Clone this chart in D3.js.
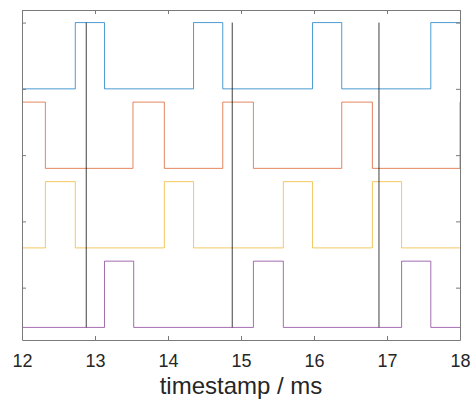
<!DOCTYPE html>
<html>
<head>
<meta charset="utf-8">
<script src="https://cdn.jsdelivr.net/npm/d3@7"></script>
<style>
  body { margin: 0; background: #fff; }
  svg { display: block; font-family: 'Liberation Sans', Arial, sans-serif; }
</style>
</head>
<body>
<div id="chart"></div>
<script>
(function() {
const width = 473,
      height = 401

// pulse [rise, fall] times in ms, one list per channel (top to bottom)
const blue = [[12.73, 13.13], [14.35, 14.75], [15.98, 16.38], [17.6, 18.4]]
const orange = [[11.9, 12.32], [13.52, 13.95], [14.75, 15.17], [16.38, 16.8], [18.0, 18.4]]
const yellow = [[12.32, 12.73], [13.95, 14.35], [15.58, 15.98], [16.8, 17.2]]
const purple = [[13.13, 13.53], [15.17, 15.58], [17.2, 17.6]]

const channels = [blue, orange, yellow, purple]
const offsets = [3.6, 2.4, 1.2, 0]
const colors = ['#0072BD', '#D95319', '#EDB120', '#7E2F8E']

// trigger markers
const markers = [12.88, 14.88, 16.89]

const xTicks = [12, 13, 14, 15, 16, 17, 18]
const yTicks = [0.6, 1.6, 2.6, 3.6, 4.6]

const margin = { left: 22, right: 13, top: 10, bottom: 61 }

const x = d3.scaleLinear()
  .domain([12, 18])
  .range([margin.left, width - margin.right])

const y = d3.scaleLinear()
  .domain([-0.19, 4.79])
  .range([height - margin.bottom, margin.top])

const svg = d3.select('#chart')
  .append('svg')
  .attr('width', width)
  .attr('height', height)

svg.append('defs').append('clipPath')
  .attr('id', 'clip')
  .append('rect')
  .attr('x', x(12))
  .attr('y', y(4.79))
  .attr('width', x(18) - x(12))
  .attr('height', y(-0.19) - y(4.79))

const plot = svg.append('g').attr('clip-path', 'url(#clip)')

const line = d3.line()
  .x(function(d) { return x(d[0]) })
  .y(function(d) { return y(d[1]) })

function stepPoints(pulses, base) {
  const pts = [[11.5, base]]
  pulses.forEach(function(p) {
    pts.push([p[0], base], [p[0], base + 1], [p[1], base + 1], [p[1], base])
  })
  pts.push([18.5, base])
  return pts
}

channels.forEach(function(pulses, i) {
  plot.append('path')
    .attr('d', line(stepPoints(pulses, offsets[i])))
    .attr('fill', 'none')
    .attr('stroke', colors[i])
    .attr('stroke-width', 1)
    .attr('stroke-opacity', 0.7)
})

plot.selectAll('.marker')
  .data(markers)
  .enter().append('line')
  .attr('class', 'marker')
  .attr('x1', function(d) { return x(d) })
  .attr('x2', function(d) { return x(d) })
  .attr('y1', y(0))
  .attr('y2', y(4.6))
  .attr('stroke', '#000')
  .attr('stroke-width', 1)
  .attr('stroke-opacity', 0.75)

// axes box with inward ticks
const axisColor = '#7a7a7a'
const tickLen = 4

svg.append('g')
  .attr('transform', 'translate(0,' + y(-0.19) + ')')
  .call(d3.axisBottom(x).tickValues(xTicks).tickFormat(d3.format('d'))
    .tickSizeInner(-tickLen).tickSizeOuter(0).tickPadding(14))
  .call(function(g) {
    g.select('.domain').attr('stroke', axisColor)
    g.selectAll('.tick line').attr('stroke', axisColor)
    g.selectAll('.tick text').attr('fill', '#262626').style('font-size', '18px')
  })

svg.append('g')
  .attr('transform', 'translate(0,' + y(4.79) + ')')
  .call(d3.axisTop(x).tickValues(xTicks).tickSizeInner(-tickLen).tickSizeOuter(0).tickFormat(''))
  .call(function(g) {
    g.select('.domain').attr('stroke', axisColor)
    g.selectAll('.tick line').attr('stroke', axisColor)
  })

svg.append('g')
  .attr('transform', 'translate(' + x(12) + ',0)')
  .call(d3.axisLeft(y).tickValues(yTicks).tickSizeInner(-tickLen).tickSizeOuter(0).tickFormat(''))
  .call(function(g) {
    g.select('.domain').attr('stroke', axisColor)
    g.selectAll('.tick line').attr('stroke', axisColor)
  })

svg.append('g')
  .attr('transform', 'translate(' + x(18) + ',0)')
  .call(d3.axisRight(y).tickValues(yTicks).tickSizeInner(-tickLen).tickSizeOuter(0).tickFormat(''))
  .call(function(g) {
    g.select('.domain').attr('stroke', axisColor)
    g.selectAll('.tick line').attr('stroke', axisColor)
  })

svg.append('text')
  .attr('x', (x(12) + x(18)) / 2)
  .attr('y', 394)
  .attr('text-anchor', 'middle')
  .attr('fill', '#262626')
  .style('font-size', '24px')
  .text('timestamp / ms')

})()
</script>
</body>
</html>
